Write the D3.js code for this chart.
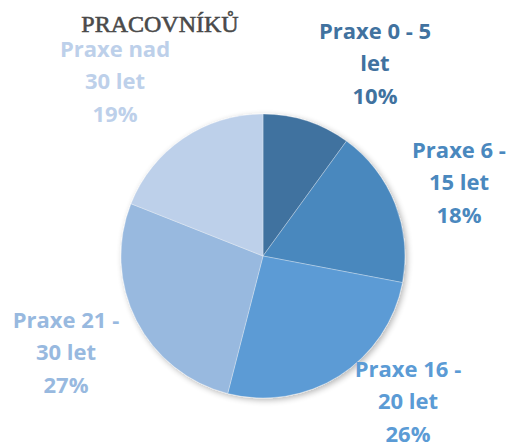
<!DOCTYPE html>
<html><head><meta charset="utf-8">
<script src="https://cdn.jsdelivr.net/npm/d3@7"></script>
<style>html,body{margin:0;padding:0;background:#fff;}svg{display:block;}</style>
</head><body>
<script>
const categories = ["Praxe 0 - 5 let", "Praxe 6 - 15 let", "Praxe 16 - 20 let", "Praxe 21 - 30 let", "Praxe nad 30 let"];
const values = [10, 18, 26, 27, 19];
const colors = ["#41729f", "#4a88be", "#5b9bd5", "#98b9df", "#bdd0ea"];
const labelLines = [
  ["Praxe 0 - 5", "let", "10%"],
  ["Praxe 6 -", "15 let", "18%"],
  ["Praxe 16 -", "20 let", "26%"],
  ["Praxe 21 -", "30 let", "27%"],
  ["Praxe nad", "30 let", "19%"]
];
const labelPos = [[375, 39], [459, 158], [408, 377], [66, 328], [115, 57]];
const title = "PRACOVNÍKŮ";

const W = 511, H = 445;
const svg = d3.select("body").append("svg").attr("width", W).attr("height", H);
const defs = svg.append("defs");
const f = defs.append("filter").attr("id", "sh").attr("x", "-20%").attr("y", "-20%").attr("width", "140%").attr("height", "140%");
f.append("feGaussianBlur").attr("in", "SourceAlpha").attr("stdDeviation", 3);
f.append("feOffset").attr("dx", 1.5).attr("dy", 1.5).attr("result", "b");
f.append("feComponentTransfer").append("feFuncA").attr("type", "linear").attr("slope", 0.3);
const m = f.append("feMerge"); m.append("feMergeNode"); m.append("feMergeNode").attr("in", "SourceGraphic");

svg.append("text").attr("x", 160).attr("y", 32).attr("text-anchor", "middle")
  .attr("font-family", "'Liberation Serif', 'Times New Roman', serif").attr("font-size", 24)
  .attr("fill", "#4a4a4a").attr("stroke", "#4a4a4a").attr("stroke-width", 0.6).text(title);

const cx = 263, cy = 256, r = 142;
const pie = d3.pie().sort(null).value(d => d)(values);
const arc = d3.arc().innerRadius(0).outerRadius(r);
const g = svg.append("g").attr("transform", `translate(${cx},${cy})`);
const gs = g.append("g").attr("filter", "url(#sh)");
gs.selectAll("path").data(pie).join("path")
  .attr("d", arc).attr("fill", (d, i) => colors[i])
  .attr("stroke", "#ffffff").attr("stroke-width", 0.5).attr("stroke-opacity", 0.6);

labelLines.forEach((lines, i) => {
  const t = svg.append("text").attr("text-anchor", "middle")
    .attr("font-family", "'Open Sans', sans-serif").attr("font-weight", "bold")
    .attr("font-size", 22).attr("fill", colors[i]);
  lines.forEach((ln, j) => {
    t.append("tspan").attr("x", labelPos[i][0]).attr("y", labelPos[i][1] + j * 32.3).text(ln);
  });
});
</script>
</body></html>
